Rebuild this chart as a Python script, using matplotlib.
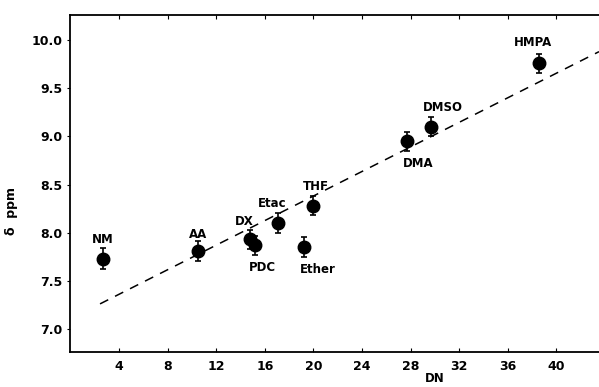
import numpy as np
import matplotlib
matplotlib.use("Agg")
import matplotlib.pyplot as plt

# solvent data: donor number vs chemical shift
names = ["NM", "AA", "DX", "PDC", "Etac", "THF", "Ether", "DMA", "DMSO", "HMPA"]
dn = [2.7, 10.5, 14.8, 15.2, 17.1, 20.0, 19.2, 27.7, 29.7, 38.6]
shift = [7.73, 7.81, 7.93, 7.87, 8.10, 8.28, 7.85, 8.95, 9.10, 9.76]
err = [0.11, 0.10, 0.10, 0.10, 0.10, 0.10, 0.10, 0.10, 0.10, 0.10]

# dashed fit line end points
fit_x = [2.44, 43.5]
fit_y = [7.26, 9.88]

# label placement: offsets in points
label_off = {"NM": (0, 14), "AA": (0, 12), "DX": (-4, 13), "PDC": (5, -16),
             "Etac": (-4, 14), "THF": (2, 14), "Ether": (10, -16),
             "DMA": (8, -16), "DMSO": (8, 14), "HMPA": (-5, 15)}

plt.rcParams['font.family'] = ['DejaVu Sans']
fig = plt.figure(figsize=(5.99, 3.87), dpi=100)
ax = fig.add_axes([0.1175, 0.0904, 0.8825, 0.8706])

ax.plot(fit_x, fit_y, color="black", linestyle=(0, (6, 5)), linewidth=1.1)
ax.errorbar(dn, shift, yerr=err, fmt="o", color="black", markersize=9,
            capsize=2.5, elinewidth=1.2, capthick=1.2)

for n, x, y in zip(names, dn, shift):
    dx, dy = label_off[n]
    ax.annotate(n, (x, y), xytext=(dx, dy), textcoords="offset points",
                ha="center", va="center", fontsize=8.5, fontweight="bold")

ax.set_xlim(0, 43.5)
ax.set_ylim(6.76, 10.26)
ax.set_xticks([4, 8, 12, 16, 20, 24, 28, 32, 36, 40])
ax.set_yticks([7.0, 7.5, 8.0, 8.5, 9.0, 9.5, 10.0])
ax.set_yticklabels(["7.0", "7.5", "8.0", "8.5", "9.0", "9.5", "10.0"])
ax.tick_params(axis="x", direction="in", length=3, top=True, labelsize=9, pad=6)
ax.tick_params(axis="y", direction="out", length=2, labelsize=9)
for lab in ax.get_xticklabels() + ax.get_yticklabels():
    lab.set_fontweight("bold")
ax.spines["right"].set_visible(False)
for s in ["left", "top", "bottom"]:
    ax.spines[s].set_linewidth(1.3)

ax.set_xlabel("DN", fontsize=8.5, fontweight="bold", labelpad=2)
ax.xaxis.set_label_coords(0.69, -0.06)
ax.set_ylabel("δ  ppm", fontsize=9, fontweight="bold")
ax.yaxis.set_label_coords(-0.1, 0.42)

fig.savefig("out.png", dpi=100)
